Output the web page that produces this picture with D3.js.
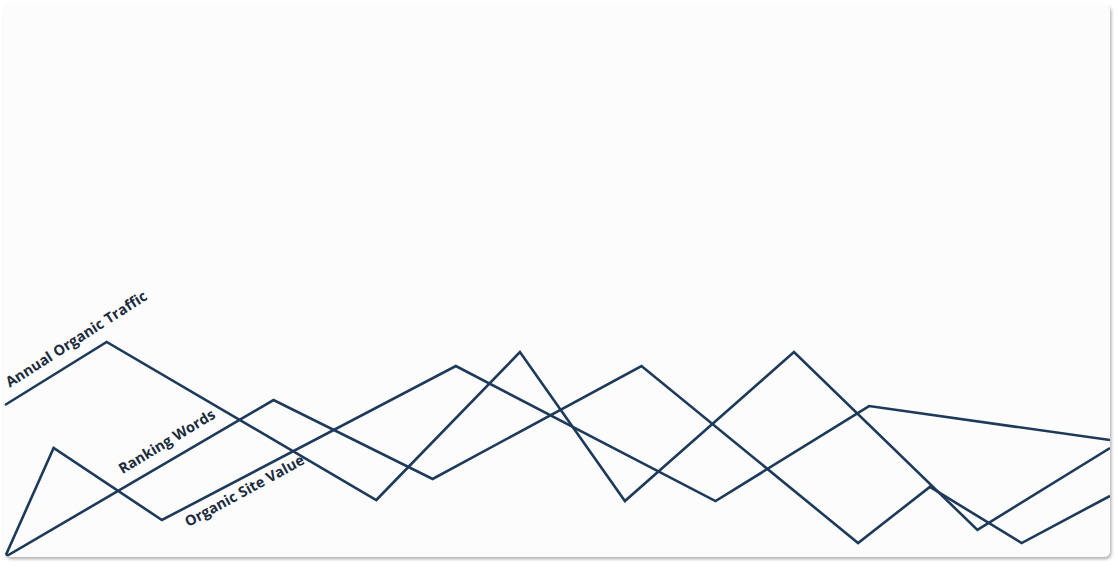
<!DOCTYPE html>
<html>
<head>
<meta charset="utf-8">
<script src="https://cdn.jsdelivr.net/npm/d3@7"></script>
<style>
  html, body { margin: 0; padding: 0; background: #ffffff; }
  svg { display: block; }
</style>
</head>
<body>
<svg id="chart" width="1118" height="569"></svg>
<script>
// ---- Data (x as % of period, y as index value) ----
const seriesNames = ["Annual Organic Traffic", "Organic Site Value", "Ranking Words"];
const trafficX = [0, 9.2, 33.6, 46.6, 56.1, 71.4, 88.0, 100];
const trafficY = [70.7, 100, 26.5, 95.3, 26.0, 95.3, 12.6, 50.7];
const siteValueX = [0, 4.4, 14.2, 40.8, 64.3, 78.2, 100];
const siteValueY = [0, 50.7, 17.2, 88.8, 26.0, 70.2, 54.4];
const rankingX = [0, 24.3, 38.7, 57.6, 77.2, 83.7, 92.0, 100];
const rankingY = [0, 73.0, 36.3, 88.8, 6.5, 32.6, 6.5, 28.4];
// label placement: segment index, fraction along segment, offset (negative = above)
const labelSegment = [0, 2, 0];
const labelFraction = [0.11, 0.06, 0.46];
const labelOffset = [-12, 18.7, -12.1];

const W = 1118, H = 569;
const card = { x: 4, y: 4, w: 1106, h: 553, r: 6 };
const lineColor = "#1e3a5a";
const textColor = "#1b2b3d";

const svg = d3.select("#chart");
const defs = svg.append("defs");
const f = defs.append("filter").attr("id", "shadow")
  .attr("x", "-5%").attr("y", "-5%").attr("width", "110%").attr("height", "115%");
f.append("feDropShadow").attr("dx", 1.5).attr("dy", 2.2).attr("stdDeviation", 1.8)
  .attr("flood-color", "#000").attr("flood-opacity", 0.3);
defs.append("clipPath").attr("id", "cardClip").append("rect")
  .attr("x", card.x).attr("y", card.y).attr("width", card.w).attr("height", card.h).attr("rx", card.r);

svg.append("rect")
  .attr("x", card.x).attr("y", card.y).attr("width", card.w).attr("height", card.h)
  .attr("rx", card.r).attr("fill", "#fcfcfc").attr("filter", "url(#shadow)");

const x = d3.scaleLinear().domain([0, 100]).range([5, 1110]);
const y = d3.scaleLinear().domain([0, 100]).range([557, 342]);

const series = [
  { name: seriesNames[0], pts: trafficX.map((v, i) => [v, trafficY[i]]) },
  { name: seriesNames[1], pts: siteValueX.map((v, i) => [v, siteValueY[i]]) },
  { name: seriesNames[2], pts: rankingX.map((v, i) => [v, rankingY[i]]) }
];

const line = d3.line().x(d => x(d[0])).y(d => y(d[1]));
const g = svg.append("g").attr("clip-path", "url(#cardClip)");

g.selectAll("path.series").data(series).join("path")
  .attr("class", "series")
  .attr("d", d => line(d.pts))
  .attr("fill", "none")
  .attr("stroke", lineColor)
  .attr("stroke-width", 2.6)
  .attr("stroke-linejoin", "miter");

series.forEach((s, i) => {
  const k = labelSegment[i];
  const p0 = [x(s.pts[k][0]), y(s.pts[k][1])];
  const p1 = [x(s.pts[k + 1][0]), y(s.pts[k + 1][1])];
  const ang = Math.atan2(p1[1] - p0[1], p1[0] - p0[0]);
  const t = labelFraction[i];
  const fx = p0[0] + t * (p1[0] - p0[0]);
  const fy = p0[1] + t * (p1[1] - p0[1]);
  const nx = -Math.sin(ang), ny = Math.cos(ang);
  const px = fx + labelOffset[i] * nx;
  const py = fy + labelOffset[i] * ny;
  g.append("text")
    .attr("transform", `translate(${px},${py}) rotate(${ang * 180 / Math.PI - 1})`)
    .attr("font-family", "'Open Sans', sans-serif")
    .attr("font-weight", 700)
    .attr("font-size", 14.5)
    .attr("letter-spacing", 0.1)
    .attr("fill", textColor)
    .text(s.name);
});
</script>
</body>
</html>
